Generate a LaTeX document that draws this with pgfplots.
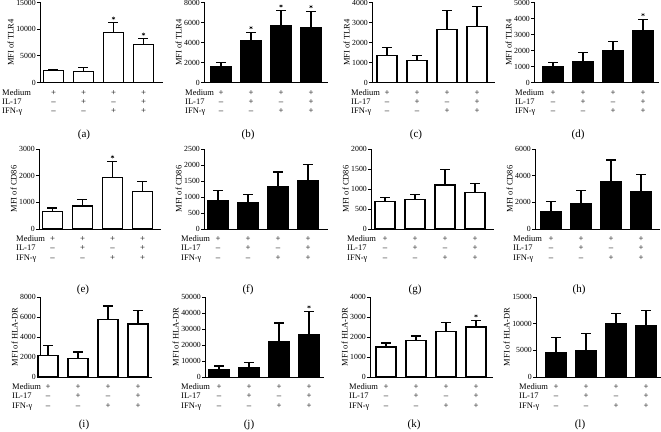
\documentclass[border=0pt]{standalone}
\usepackage{pgfplots}
\pgfplotsset{compat=1.18}
\usepackage{fontspec}
\setmainfont{Liberation Serif}

\pgfplotsset{
  panel/.style={
    scale only axis, height=80pt, anchor=south west,
    ymin=0, axis lines=left, axis line style={-, line width=0.9pt},
    xtick=\empty,
    tick align=outside, major tick length=3pt,
    ytick style={line width=0.9pt, black},
    yticklabel style={font=\fontsize{7.8}{8}\selectfont, inner sep=1pt},
    /pgf/number format/assume math mode=true,
    /pgf/number format/1000 sep={},
    scaled y ticks=false,
    ylabel style={font=\fontsize{8.5}{9}\selectfont, yshift=-2pt},
    clip=false,
  },
  bars/.style={
    ybar, bar width=20pt, draw=black, line width=1.2pt,
    error bars/y dir=plus, error bars/y explicit,
    error bars/error bar style={line width=1.2pt, black},
    error bars/error mark=-,
    error bars/error mark options={rotate=90, line width=1.2pt, black, mark size=5pt},
  },
  stars/.style={only marks, mark=asterisk, mark size=1.8pt,
    mark options={black, line width=0.45pt, yshift=4.5pt}},
}
\tikzset{
  sym/.style={anchor=base, inner sep=0pt, font=\fontsize{8.8}{9}\selectfont},
  rl/.style={anchor=base west, inner sep=0pt, font=\fontsize{8.5}{9}\selectfont},
}
\newcommand{\tbl}{%
  \node[sym, yshift=-12.6pt] at (axis cs:1,0) {+};
  \node[sym, yshift=-12.6pt] at (axis cs:2,0) {+};
  \node[sym, yshift=-12.6pt] at (axis cs:3,0) {+};
  \node[sym, yshift=-12.6pt] at (axis cs:4,0) {+};
  \node[sym, yshift=-22pt] at (axis cs:1,0) {–};
  \node[sym, yshift=-22pt] at (axis cs:2,0) {+};
  \node[sym, yshift=-22pt] at (axis cs:3,0) {–};
  \node[sym, yshift=-22pt] at (axis cs:4,0) {+};
  \node[sym, yshift=-31.3pt] at (axis cs:1,0) {–};
  \node[sym, yshift=-31.3pt] at (axis cs:2,0) {–};
  \node[sym, yshift=-31.3pt] at (axis cs:3,0) {+};
  \node[sym, yshift=-31.3pt] at (axis cs:4,0) {+};
}
\newcommand{\rowl}[1]{%
  \node[rl, xshift=#1pt, yshift=-12.6pt] at (axis description cs:0,0) {Medium};
  \node[rl, xshift=#1pt, yshift=-22pt] at (axis description cs:0,0) {IL-17};
  \node[rl, xshift=#1pt, yshift=-31.3pt] at (axis description cs:0,0) {IFN-γ};
}
\newcommand{\plab}[2]{%
  \node[font=\fontsize{11}{11}\selectfont, xshift=44pt, yshift=-#2pt] at (axis description cs:0,0) {(#1)};
}

\begin{document}
\begin{tikzpicture}
\path[use as bounding box] (0,0) rectangle (661pt,431pt);

% ---------- Row 1 ----------
\begin{axis}[panel, at={(40pt,348.5pt)}, width=123pt, xmin=0.55, xmax=4.65,
  ymax=15000, ytick={0,5000,10000,15000}, ylabel={MFI of TLR4}]
\addplot[bars, fill=white] coordinates {(1,2250) +- (0,250) (2,2100) +- (0,700) (3,9350) +- (0,1850) (4,7100) +- (0,1100)};
\addplot[stars] coordinates {(3,11200) (4,8200)};
\tbl \rowl{-38} \plab{a}{52}
\end{axis}

\begin{axis}[panel, at={(204pt,348.5pt)}, width=124pt, xmin=0.433, xmax=4.567,
  ymax=8000, ytick={0,2000,4000,6000,8000}, ylabel={MFI of TLR4}]
\addplot[bars, fill=black] coordinates {(1,1570) +- (0,430) (2,4200) +- (0,830) (3,5730) +- (0,1470) (4,5530) +- (0,1600)};
\addplot[stars] coordinates {(2,5030) (3,7200) (4,7130)};
\tbl \rowl{-19} \plab{b}{52}
\end{axis}

\begin{axis}[panel, at={(372pt,348.5pt)}, width=123pt, xmin=0.5, xmax=4.6,
  ymax=4000, ytick={0,1000,2000,3000,4000}, ylabel={MFI of TLR4}]
\addplot[bars, fill=white] coordinates {(1,1330) +- (0,410) (2,1100) +- (0,240) (3,2660) +- (0,930) (4,2800) +- (0,980)};
\tbl \rowl{-21} \plab{c}{52}
\end{axis}

\begin{axis}[panel, at={(534pt,348.5pt)}, width=125pt, xmin=0.367, xmax=4.533,
  ymax=5000, ytick={0,1000,2000,3000,4000,5000}, ylabel={MFI of TLR4}]
\addplot[bars, fill=black] coordinates {(1,1000) +- (0,270) (2,1330) +- (0,550) (3,2020) +- (0,520) (4,3230) +- (0,730)};
\addplot[stars] coordinates {(4,3960)};
\tbl \rowl{-19} \plab{d}{52}
\end{axis}

% ---------- Row 2 ----------
\begin{axis}[panel, at={(39pt,202pt)}, width=122pt, xmin=0.55, xmax=4.617,
  ymax=3000, ytick={0,1000,2000,3000}, ylabel={MFI of CD86}]
\addplot[bars, fill=white] coordinates {(1,650) +- (0,140) (2,860) +- (0,250) (3,1940) +- (0,600) (4,1410) +- (0,370)};
\addplot[stars] coordinates {(3,2540)};
\tbl \rowl{-23} \plab{e}{61}
\end{axis}

\begin{axis}[panel, at={(204pt,202pt)}, width=124pt, xmin=0.533, xmax=4.667,
  ymax=2500, ytick={0,500,1000,1500,2000,2500}, ylabel={MFI of CD86}]
\addplot[bars, fill=black] coordinates {(1,890) +- (0,310) (2,830) +- (0,260) (3,1310) +- (0,470) (4,1510) +- (0,500)};
\tbl \rowl{-23} \plab{f}{61}
\end{axis}

\begin{axis}[panel, at={(371pt,202pt)}, width=123pt, xmin=0.533, xmax=4.633,
  ymax=2000, ytick={0,500,1000,1500,2000}, ylabel={MFI of CD86}]
\addplot[bars, fill=white] coordinates {(1,680) +- (0,110) (2,730) +- (0,140) (3,1100) +- (0,390) (4,920) +- (0,210)};
\tbl \rowl{-24} \plab{g}{61}
\end{axis}

\begin{axis}[panel, at={(535pt,202pt)}, width=125pt, xmin=0.467, xmax=4.633,
  ymax=6000, ytick={0,2000,4000,6000}, ylabel={MFI of CD86}]
\addplot[bars, fill=black] coordinates {(1,1320) +- (0,740) (2,1880) +- (0,1000) (3,3590) +- (0,1580) (4,2820) +- (0,1250)};
\tbl \rowl{-22} \plab{h}{61}
\end{axis}

% ---------- Row 3 ----------
\begin{axis}[panel, at={(40pt,54pt)}, width=112pt, xmin=0.733, xmax=4.467,
  ymax=8000, ytick={0,2000,4000,6000,8000}, ylabel={MFI of HLA-DR}]
\addplot[bars, fill=white] coordinates {(1,2130) +- (0,1040) (2,1830) +- (0,670) (3,5730) +- (0,1370) (4,5300) +- (0,1370)};
\tbl \rowl{-28} \plab{i}{48}
\end{axis}

\begin{axis}[panel, at={(205pt,54pt)}, width=119pt, xmin=0.533, xmax=4.5,
  ymax=50000, ytick={0,10000,20000,30000,40000,50000}, ylabel={MFI of HLA-DR}]
\addplot[bars, fill=black] coordinates {(1,4400) +- (0,2500) (2,5600) +- (0,3600) (3,22100) +- (0,11650) (4,26250) +- (0,14750)};
\addplot[stars] coordinates {(4,41000)};
\tbl \rowl{-24} \plab{j}{48}
\end{axis}

\begin{axis}[panel, at={(370pt,54pt)}, width=123pt, xmin=0.467, xmax=4.567,
  ymax=4000, ytick={0,1000,2000,3000,4000}, ylabel={MFI of HLA-DR}]
\addplot[bars, fill=white] coordinates {(1,1500) +- (0,200) (2,1830) +- (0,220) (3,2280) +- (0,440) (4,2500) +- (0,330)};
\addplot[stars] coordinates {(4,2830)};
\tbl \rowl{-21} \plab{k}{48}
\end{axis}

\begin{axis}[panel, at={(536pt,54pt)}, width=125pt, xmin=0.333, xmax=4.5,
  ymax=15000, ytick={0,5000,10000,15000}, ylabel={MFI of HLA-DR}]
\addplot[bars, fill=black] coordinates {(1,4520) +- (0,2880) (2,4960) +- (0,3200) (3,10100) +- (0,1760) (4,9600) +- (0,2900)};
\tbl \rowl{-17} \plab{l}{48}
\end{axis}
\end{tikzpicture}
\end{document}
